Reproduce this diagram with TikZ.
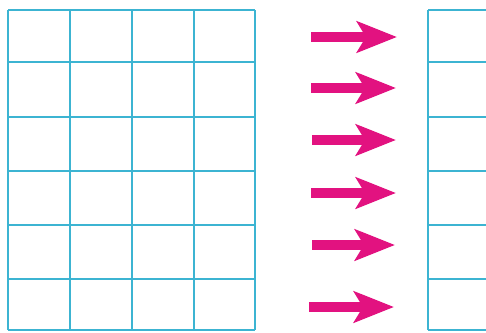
\documentclass[tikz,border=0pt]{standalone}
\usetikzlibrary{arrows.meta}
\definecolor{gridcyan}{RGB}{60,180,210}
\definecolor{arrowmag}{RGB}{226,18,128}
\tikzset{
  gridline/.style={draw=gridcyan, line width=1.8pt},
  bigarrow/.style={draw=arrowmag, line width=10.5pt,
    -{Stealth[length=40pt,width=31pt,inset=9pt,fill=arrowmag]}}
}
\begin{document}
\begin{tikzpicture}[x=1pt,y=-1pt]
\useasboundingbox (0,0) rectangle (486,332);
\fill[white] (0,0) rectangle (486,332);
% left grid
\foreach \x in {8,70,132,194,255} \draw[gridline] (\x,10) -- (\x,330);
\foreach \y in {10,62,117,171,225,279,330} \draw[gridline] (8,\y) -- (255,\y);
% right grid (cut off)
\draw[gridline] (428,10) -- (428,330);
\foreach \y in {10,62,117,171,225,279,330} \draw[gridline] (428,\y) -- (490,\y);
% arrows
\foreach \i/\y/\xs/\xe in {1/37/311/397,2/88/311/396,3/140/312/396,4/193/311/396,5/245/312/395,6/307/309/394}{
  \coordinate (s\i) at (\xs,\y);
  \coordinate (e\i) at (\xe,\y);
  \draw[bigarrow] (s\i) -- (e\i);
}
\end{tikzpicture}
\end{document}
